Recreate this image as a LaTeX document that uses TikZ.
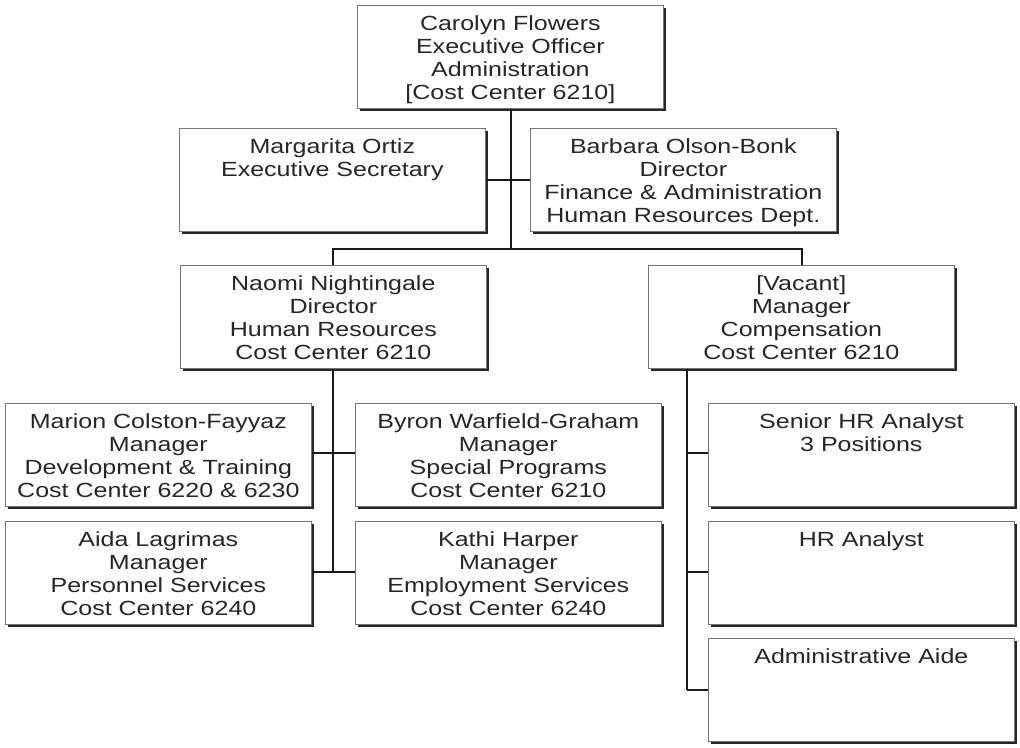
\documentclass[tikz,border=0pt]{standalone}
\usepackage{fontspec}
\setmainfont{Liberation Sans}[FakeStretch=1.22]
\usetikzlibrary{shadows}
\tikzset{
  orgbox/.style={draw=black!55, line width=0.7pt, fill=white,
    minimum width=306pt, minimum height=103pt, anchor=north west, inner sep=0pt,
    drop shadow={shadow xshift=3pt, shadow yshift=-3pt, fill=black!85, opacity=1}},
  orgtext/.style={anchor=north, inner sep=0pt, align=center, text=black!85,
    font=\fontsize{20.5}{23.3}\selectfont, yshift=-10pt},
  link/.style={draw=black!90, line width=1.6pt}
}
\newcommand\orgnode[4]{%
  \node[orgbox] (#1) at (#2,#3) {};
  \node[orgtext] (#1-t) at (#1.north) {#4};}
\begin{document}
\begin{tikzpicture}[x=1pt,y=-1pt]
\useasboundingbox (0,0) rectangle (1020,747);
% connectors first (behind boxes)
\coordinate (c0) at (511,249);
\coordinate (cl) at (333,249);
\coordinate (cr) at (802,249);
\coordinate (j1) at (511,180);
\coordinate (n1) at (333,453);
\coordinate (n2) at (333,572);
\coordinate (v0) at (687,368);
\coordinate (v1) at (687,453);
\coordinate (v2) at (687,572);
\coordinate (v3) at (687,690);

\orgnode{exec}{357}{5}{Carolyn Flowers\\Executive Officer\\Administration\\{[}Cost Center 6210{]}}
\orgnode{sec}{179}{128}{Margarita Ortiz\\Executive Secretary}
\orgnode{fin}{530}{128}{Barbara Olson-Bonk\\Director\\Finance \& Administration\\Human Resources Dept.}
\orgnode{hr}{180}{265}{Naomi Nightingale\\Director\\Human Resources\\Cost Center 6210}
\orgnode{comp}{648}{265}{{[}Vacant{]}\\Manager\\Compensation\\Cost Center 6210}
\orgnode{dev}{5}{403}{Marion Colston-Fayyaz\\Manager\\Development \& Training\\Cost Center 6220 \& 6230}
\orgnode{spec}{355}{403}{Byron Warfield-Graham\\Manager\\Special Programs\\Cost Center 6210}
\orgnode{pers}{5}{521}{Aida Lagrimas\\Manager\\Personnel Services\\Cost Center 6240}
\orgnode{emp}{355}{521}{Kathi Harper\\Manager\\Employment Services\\Cost Center 6240}
\orgnode{shra}{708}{403}{Senior HR Analyst\\3 Positions}
\orgnode{hra}{708}{521}{HR Analyst}
\orgnode{aide}{708}{638}{Administrative Aide}

\begin{scope}[link]
\draw (exec.south -| c0) -- (c0);
\draw (sec.east |- j1) -- (fin.west |- j1);
\draw (hr.north -| cl) |- (cl) -- (cr) -- (comp.north -| cr);
\draw (hr.south -| n1) -- (n2);
\draw (dev.east |- n1) -- (spec.west |- n1);
\draw (pers.east |- n2) -- (emp.west |- n2);
\draw (comp.south -| v0) -- (v3);
\draw (v1) -- (shra.west |- v1);
\draw (v2) -- (hra.west |- v2);
\draw (v3) -- (aide.west |- v3);
\end{scope}
\end{tikzpicture}
\end{document}
